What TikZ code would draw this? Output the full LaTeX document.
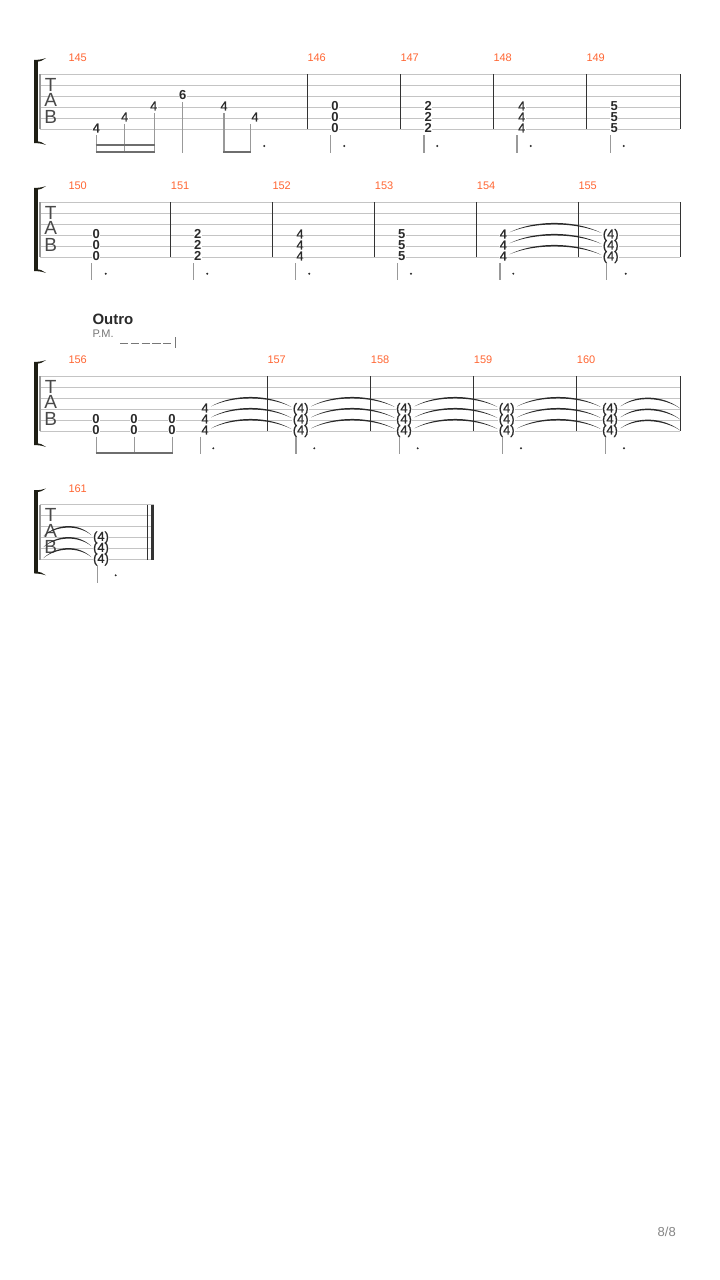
\documentclass[tikz,border=0pt]{standalone}
\usepackage{fontspec}
\setmainfont{Liberation Sans}
\newfontfamily\midfont[FakeBold=0.9]{Liberation Sans}
\usetikzlibrary{calc}
\definecolor{mnumc}{HTML}{FF6633}
\definecolor{stc}{HTML}{C4C4C4}
\definecolor{barc}{HTML}{333333}
\definecolor{stemc}{HTML}{999999}
\definecolor{beamc}{HTML}{6E6E6E}
\definecolor{txtc}{HTML}{2A2A2A}
\definecolor{brkc}{HTML}{1E1E14}
\definecolor{pmc}{HTML}{777777}
\tikzset{
 staffline/.style={draw=stc, line width=1pt},
 staffstart/.style={draw=gray!80, line width=1.6pt},
 barline/.style={draw=barc, line width=1pt},
 stemline/.style={draw=stemc, line width=1.3pt},
 beamline/.style={draw=beamc, line width=2pt},
 fret/.style={font=\fontsize{13}{13}\selectfont\midfont, text=txtc, fill=white, inner sep=0.4pt, text height=9.3pt, text depth=0pt, anchor=center},
 fretb/.style={fret, font=\fontsize{13}{13}\selectfont\bfseries},
 mnum/.style={font=\fontsize{11}{11}\selectfont, text=mnumc, anchor=west, inner sep=0pt},
 tabl/.style={font=\fontsize{19}{19}\selectfont, text=txtc!85, inner sep=0pt},
 dotm/.style={fill=txtc},
 tiec/.style={fill=txtc},
}
\newcommand\staffsys[3]{% name, top y, right x
 \foreach \i in {0,...,5} {\draw[staffline] (40,{#2+11*\i}) -- (#3,{#2+11*\i});}
 \draw[staffstart] (40,#2) -- (40,{#2+55});
 \fill[brkc] (34,{#2-14.3}) rectangle (37.5,{#2+68.7});
 \fill[brkc] (34,{#2-14.3}) .. controls (40,{#2-14.6}) and (43,{#2-15}) .. (46,{#2-16.2})
   .. controls (43,{#2-13.6}) and (40,{#2-12.6}) .. (34,{#2-12.4}) -- cycle;
 \fill[brkc] (34,{#2+68.7}) .. controls (40,{#2+69}) and (43,{#2+69.4}) .. (46,{#2+70.6})
   .. controls (43,{#2+68}) and (40,{#2+67}) .. (34,{#2+66.8}) -- cycle;
 \node[tabl] (#1T) at (50.7,{#2+10.4}) {T};
 \node[tabl] (#1A) at (50.7,{#2+25.9}) {A};
 \node[tabl] (#1B) at (50.7,{#2+42.4}) {B};
}
\newcommand\barl[2]{\draw[barline] (#1,#2) -- (#1,{#2+55});}
\newcommand\threech[5]{%
 \node[#4] (#1c) at (#2,{#3+22-1.5}) {#5};
 \node[#4] (#1b) at (#2,{#3+11-1.5}) {#5};
 \node[#4] (#1a) at (#2,{#3-1.5}) {#5};}
\newcommand\stm[3]{\draw[stemline] (#1,#2) -- (#1,#3);}
\newcommand\dt[2]{\fill[dotm] (#1,#2) circle (1.1pt);}
\newcommand\tie[2]{\fill[tiec] let \p1=($#1+(2,-1.5)$), \p2=($#2+(-1,-1)$), \n1={0.28*(\x2-\x1)} in
  (\p1) .. controls ({\x1+\n1},{\y1+12.8}) and ({\x2-\n1},{\y2+12.8}) .. (\p2)
  .. controls ({\x2-\n1},{\y2+10.8}) and ({\x1+\n1},{\y1+10.8}) .. (\p1) -- cycle;}
\begin{document}
\begin{tikzpicture}[x=1pt,y=-1pt]
\useasboundingbox (0,0) rectangle (720,1280);
\fill[white] (0,0) rectangle (720,1280);
% ================= System 1 =================
\staffsys{sa}{74.3}{680}
\foreach \b in {307.3,400.3,493.3,586.3,680} {\barl{\b}{74.3}}
\node[mnum] (k145) at (68.3,58) {145};
\node[mnum] (k146) at (307.3,58) {146};
\node[mnum] (k147) at (400.3,58) {147};
\node[mnum] (k148) at (493.3,58) {148};
\node[mnum] (k149) at (586.3,58) {149};
\node[fret] (n1) at (96.3,127.8) {4};
\node[fret] (n2) at (124.7,116.8) {4};
\node[fret] (n3) at (153.7,105.8) {4};
\node[fretb] (n4) at (182.7,94.8) {6};
\node[fret] (n5) at (224,105.8) {4};
\node[fret] (n6) at (255,116.8) {4};
\threech{m146}{335}{107.3}{fretb}{0}
\threech{m147}{428.3}{107.3}{fretb}{2}
\threech{m148}{521.7}{107.3}{fret}{4}
\threech{m149}{614.3}{107.3}{fretb}{5}
\stm{96.3}{135}{152.7}
\stm{124.7}{124}{152.7}
\stm{154.3}{113}{152.7}
\stm{182.7}{102}{152.7}
\stm{224}{113}{152.7}
\stm{250.7}{124}{152.7}
\draw[beamline] (95.7,145) -- (154.9,145);
\draw[beamline] (95.7,151.7) -- (154.9,151.7);
\draw[beamline] (223.4,151.7) -- (251.3,151.7);
\dt{264.3}{146}
\foreach \s in {330.7,424,517,610.3} {\stm{\s}{135}{152.7}}
\foreach \d in {344.3,437.3,530.7,623.7} {\dt{\d}{146}}
% ================= System 2 =================
\staffsys{sb}{202.3}{680.3}
\foreach \b in {170.7,272.3,374.7,476.7,578.3,680.3} {\barl{\b}{202.3}}
\node[mnum] (k150) at (68.3,186) {150};
\node[mnum] (k151) at (170.7,186) {151};
\node[mnum] (k152) at (272.3,186) {152};
\node[mnum] (k153) at (374.7,186) {153};
\node[mnum] (k154) at (476.7,186) {154};
\node[mnum] (k155) at (578.3,186) {155};
\threech{m150}{96.3}{235.3}{fretb}{0}
\threech{m151}{197.7}{235.3}{fretb}{2}
\threech{m152}{300}{235.3}{fret}{4}
\threech{m153}{401.7}{235.3}{fretb}{5}
\threech{m154}{503.3}{235.3}{fret}{4}
\threech{m155}{610.7}{235.3}{fret}{(4)}
\foreach \s in {91.7,193.3,295.3,397.7,500,606.7} {\stm{\s}{263.3}{280}}
\foreach \d in {105.7,207.3,309.3,411,513.3,625.7} {\dt{\d}{273.7}}
\foreach \r in {a,b,c} {\tie{(m154\r.east)}{(m155\r.west)}}
% ================= System 3 =================
\node[font=\fontsize{15}{15}\selectfont\bfseries, text=txtc, anchor=west, inner sep=0pt] (outro) at (92.3,319) {Outro};
\node[font=\fontsize{11}{11}\selectfont, text=pmc, anchor=west, inner sep=0pt] (pm) at (92.3,333.3) {P.M.};
\coordinate (pmA) at (120,343.3);
\coordinate (pmB) at (173,343.3);
\draw[pmc, line width=1.3pt, dash pattern=on 8.2pt off 2.6pt] (pmA) -- (pmB);
\draw[pmc, line width=1pt] (175.7,337.3) -- (175.7,348.3);
\staffsys{sc}{376.3}{680.3}
\foreach \b in {267.3,370.7,473.7,576.7,680.3} {\barl{\b}{376.3}}
\node[mnum] (k156) at (68.3,360) {156};
\node[mnum] (k157) at (267.3,360) {157};
\node[mnum] (k158) at (370.7,360) {158};
\node[mnum] (k159) at (473.7,360) {159};
\node[mnum] (k160) at (576.7,360) {160};
\foreach \x/\nm in {96/p1,134/p2,172/p3} {
  \node[fretb] (\nm c) at (\x,429.8) {0};
  \node[fretb] (\nm b) at (\x,418.8) {0};
}
\threech{m156}{205}{409.3}{fret}{4}
\threech{m157}{300.7}{409.3}{fret}{(4)}
\threech{m158}{404}{409.3}{fret}{(4)}
\threech{m159}{506.7}{409.3}{fret}{(4)}
\threech{m160}{610}{409.3}{fret}{(4)}
\foreach \s in {96.3,134.3,172.3,200.3,296,399.3,502.3,605.7} {\stm{\s}{436.7}{454.3}}
\draw[beamline] (95.7,453.3) -- (172.9,453.3);
\foreach \d in {213.3,314.3,417.7,521,624} {\dt{\d}{448.3}}
\coordinate (e3a) at (681,409.3);
\coordinate (e3b) at (681,420.3);
\coordinate (e3c) at (681,431.3);
\foreach \r in {a,b,c} {
  \tie{(m156\r.east)}{(m157\r.west)}
  \tie{(m157\r.east)}{(m158\r.west)}
  \tie{(m158\r.east)}{(m159\r.west)}
  \tie{(m159\r.east)}{(m160\r.west)}
  \tie{(m160\r.east)}{(e3\r)}
}
% ================= System 4 =================
\staffsys{sd}{504.7}{154}
\draw[barline] (147,504.7) -- (147,559.7);
\fill[barc] (150.5,504.7) rectangle (154,559.7);
\node[mnum] (k161) at (68.3,488.3) {161};
\threech{m161}{101}{537.7}{fret}{(4)}
\stm{97.3}{565}{583.3}
\dt{115.7}{575.3}
\coordinate (s4a) at (41.3,537.7);
\coordinate (s4b) at (41.3,548.7);
\coordinate (s4c) at (41.3,559.7);
\foreach \r in {a,b,c} {\tie{(s4\r)}{(m161\r.west)}}
% page number
\node[font=\fontsize{13}{13}\selectfont, text=pmc!90, inner sep=0pt] (pg) at (666.7,1231.7) {8/8};
\end{tikzpicture}
\end{document}
